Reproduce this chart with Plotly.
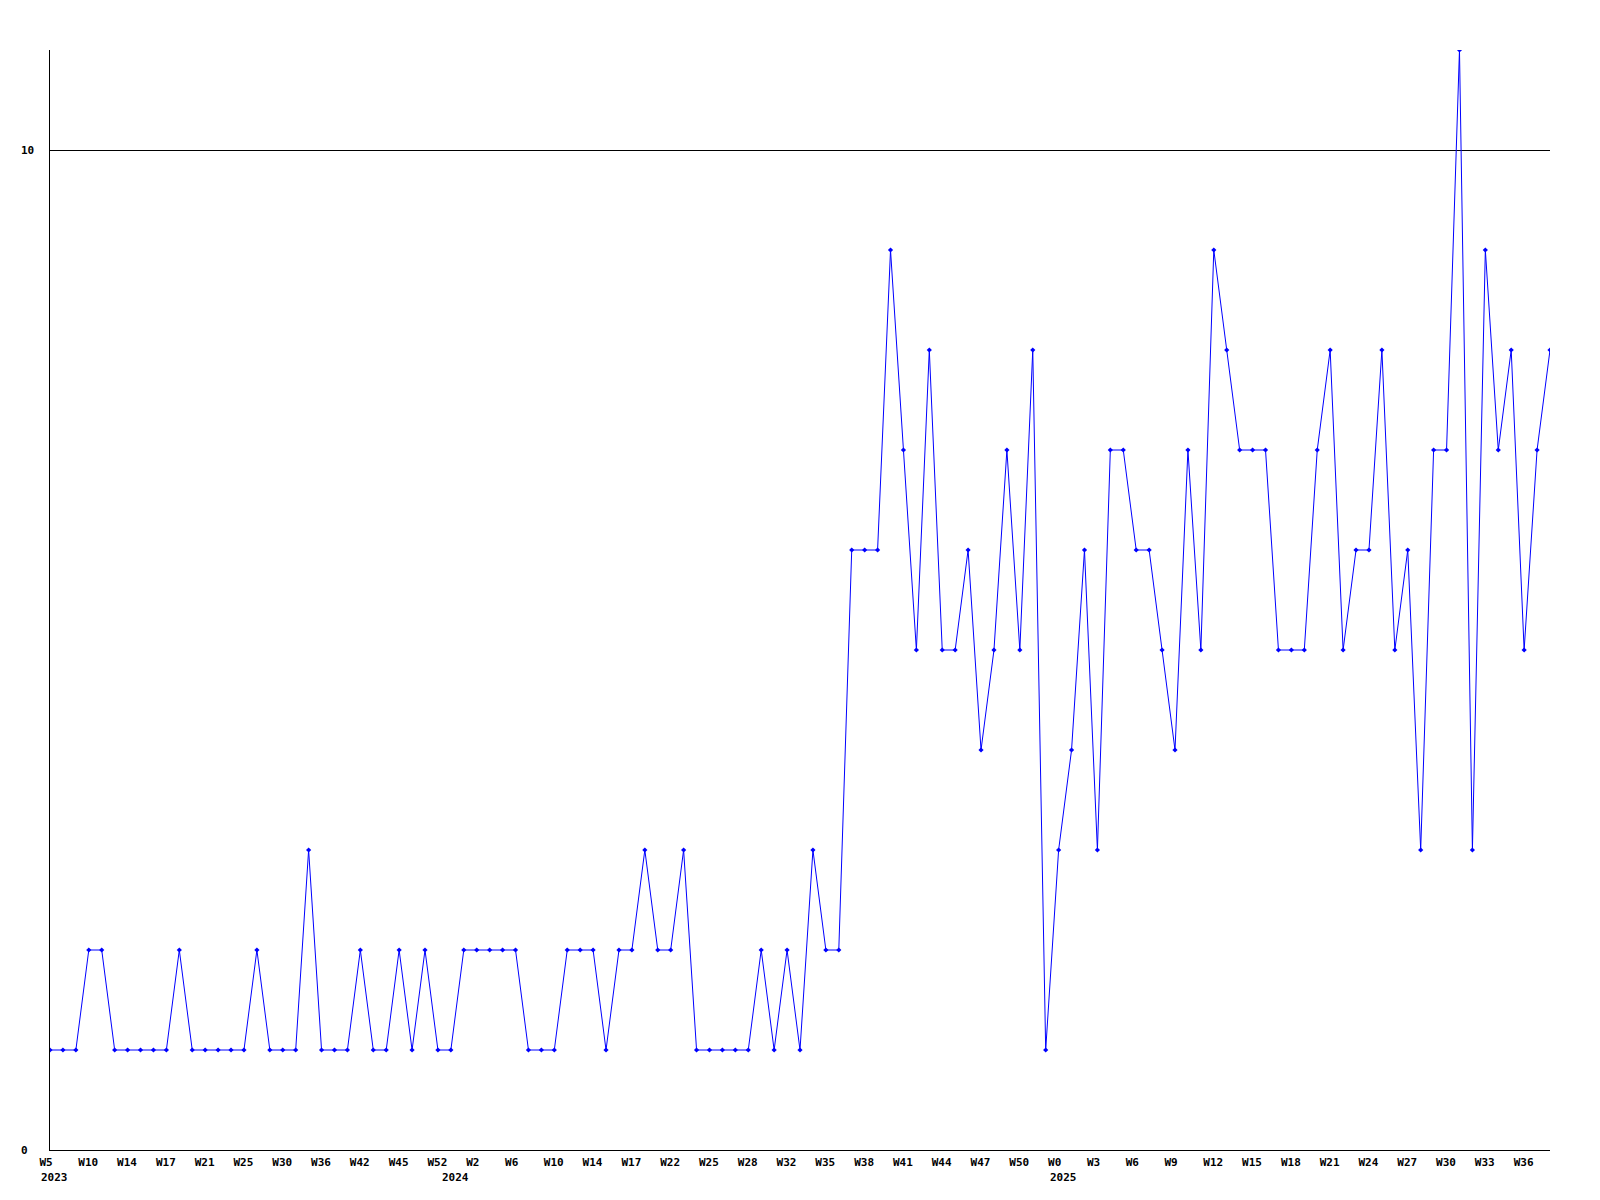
import plotly.graph_objects as go

# weekly values (117 points)
values = [
    1, 1, 1, 2, 2, 1, 1, 1, 1, 1,
    2, 1, 1, 1, 1, 1, 2, 1, 1, 1,
    3, 1, 1, 1, 2, 1, 1, 2, 1, 2,
    1, 1, 2, 2, 2, 2, 2, 1, 1, 1,
    2, 2, 2, 1, 2, 2, 3, 2, 2, 3,
    1, 1, 1, 1, 1, 2, 1, 2, 1, 3,
    2, 2, 6, 6, 6, 9, 7, 5, 8, 5,
    5, 6, 4, 5, 7, 5, 8, 1, 3, 4,
    6, 3, 7, 7, 6, 6, 5, 4, 7, 5,
    9, 8, 7, 7, 7, 5, 5, 5, 7, 8,
    5, 6, 6, 8, 5, 6, 3, 7, 7, 11,
    3, 9, 7, 8, 5, 7, 8,
]

# tick labels every third point
week_labels = [
    "W5", "W10", "W14", "W17", "W21", "W25", "W30", "W36", "W42", "W45", "W52",
    "W2", "W6", "W10", "W14", "W17", "W22", "W25", "W28", "W32", "W35", "W38",
    "W41", "W44", "W47", "W50", "W0", "W3", "W6", "W9", "W12", "W15", "W18",
    "W21", "W24", "W27", "W30", "W33", "W36",
]
label_step = 3

year_labels = ["2023", "2024", "2025"]
year_positions = [0, 31, 78]

y_ticks = [0, 10]
y_max = 11

x = list(range(len(values)))
FONT = "DejaVu Sans Mono"

fig = go.Figure()
fig.add_trace(go.Scatter(
    x=x, y=values, mode="lines+markers",
    line=dict(color="#0000ff", width=1),
    marker=dict(symbol="diamond", size=4, color="#0000ff"),
    hoverinfo="skip",
))

annotations = []
for yr, pos in zip(year_labels, year_positions):
    annotations.append(dict(
        x=pos, xref="x", y=0, yref="paper", text=yr, showarrow=False,
        xanchor="left", yanchor="top", xshift=-11, yshift=-19,
        font=dict(family=FONT, size=11, color="black", weight="bold"),
    ))
for v in y_ticks:
    annotations.append(dict(
        x=0, xref="paper", y=v, yref="y", text=str(v), showarrow=False,
        xanchor="left", yanchor="middle", xshift=-31,
        font=dict(family=FONT, size=11, color="black", weight="bold"),
    ))

fig.update_layout(
    width=1600, height=1200,
    margin=dict(l=42, r=58, t=42, b=58),
    paper_bgcolor="white", plot_bgcolor="white",
    showlegend=False,
    annotations=annotations,
    xaxis=dict(
        range=[0, len(values) - 1],
        tickvals=[i * label_step for i in range(len(week_labels))],
        ticktext=week_labels,
        ticklabelposition="outside right",
        ticklabelshift=-11,
        ticklabelstandoff=2,
        ticks="", showgrid=False, zeroline=False,
        showline=True, linecolor="black", linewidth=1,
        tickfont=dict(family=FONT, size=11, color="black", weight="bold"),
    ),
    yaxis=dict(
        range=[0, y_max],
        tickvals=y_ticks,
        showticklabels=False,
        ticks="", showgrid=True, gridcolor="black", gridwidth=1,
        zeroline=False,
        showline=True, linecolor="black", linewidth=1,
    ),
)

fig.write_html("out.html")
